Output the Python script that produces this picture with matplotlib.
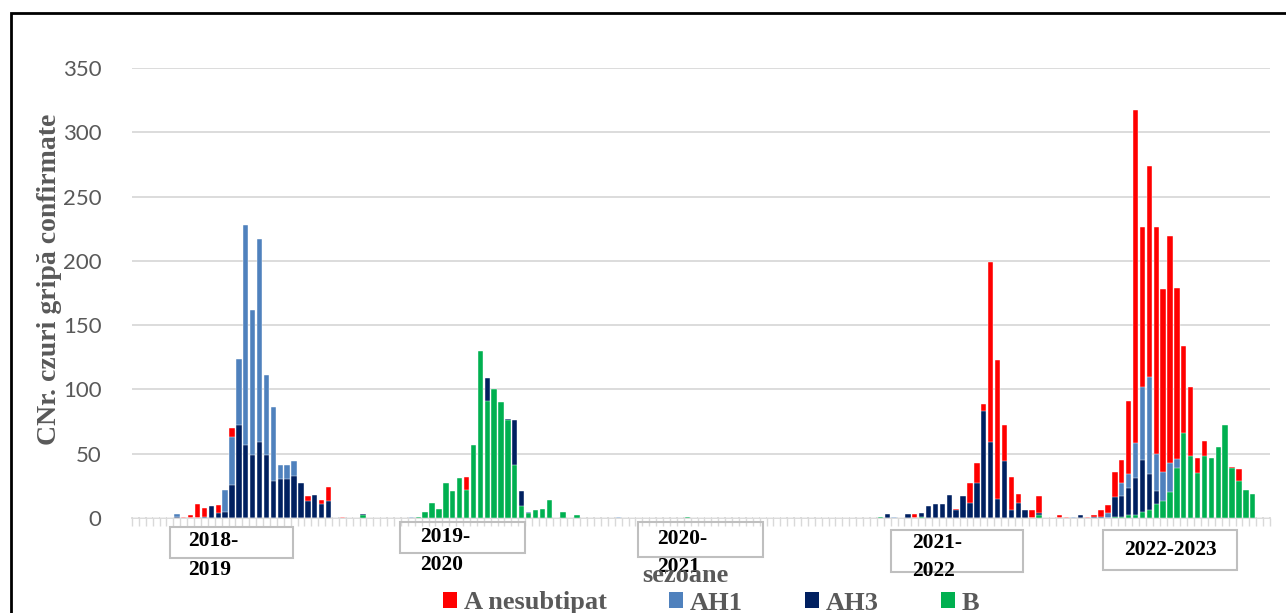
import numpy as np
import matplotlib
matplotlib.use('Agg')
import matplotlib.pyplot as plt
from matplotlib.patches import Rectangle, Patch

# weekly confirmed influenza cases, 5 seasons x 33 weeks (week 40 -> week 20)
seasons = ['2018-\n2019', '2019-\n2020', '2020-\n2021', '2021-\n2022', '2022-2023']

a_nesubtipat = (
    [0, 0, 0, 0, 0, 0, 0, 1, 2, 11, 8, 0, 10, 8, 70, 49, 76, 130, 28, 14, 21, 10, 6, 8, 14, 17, 5, 14, 24, 0, 1, 0, 0]
    + [0, 0, 0, 0, 0, 0, 0, 0, 0, 0, 0, 2, 4, 0, 0, 32, 12, 15, 15, 48, 63, 28, 12, 0, 0, 0, 0, 0, 0, 0, 0, 0, 0]
    + [0] * 33
    + [0, 0, 0, 0, 0, 0, 0, 0, 0, 0, 0, 0, 0, 0, 3, 0, 0, 0, 0, 0, 7, 4, 27, 43, 89, 199, 123, 72, 32, 19, 6, 6, 17]
    + [0, 0, 2, 1, 0, 0, 1, 2, 6, 10, 36, 45, 91, 317, 226, 274, 226, 178, 219, 179, 134, 102, 47, 60, 41, 27, 42, 40, 38, 0, 0, 0, 0]
)
ah1 = (
    [0, 0, 0, 0, 0, 0, 3, 0, 0, 0, 0, 0, 0, 22, 63, 124, 228, 162, 217, 111, 86, 41, 41, 44, 27, 0, 0, 0, 0, 0, 0, 0, 0]
    + [0, 0, 0, 0, 0, 0, 0, 1, 0, 0, 0, 0, 0, 0, 0, 0, 0, 0, 0, 0, 0, 0, 0, 0, 5, 0, 0, 0, 0, 0, 0, 0, 0]
    + [0, 0, 0, 0, 1, 0, 0, 0, 0, 0, 0, 0, 0, 0, 0, 0, 0, 0, 0, 0, 0, 0, 0, 0, 0, 0, 0, 0, 0, 0, 0, 0, 0]
    + [0, 0, 0, 0, 0, 0, 0, 0, 0, 0, 0, 1, 0, 0, 0, 0, 0, 0, 0, 0, 0, 0, 0, 0, 0, 0, 0, 0, 0, 0, 0, 0, 0]
    + [0, 0, 0, 0, 1, 0, 0, 0, 0, 4, 0, 27, 34, 58, 102, 110, 50, 36, 43, 46, 30, 0, 0, 0, 0, 0, 0, 0, 0, 0, 0, 0, 0]
)
ah3 = (
    [0, 0, 0, 0, 0, 0, 1, 0, 0, 0, 1, 9, 4, 5, 26, 72, 57, 49, 59, 49, 29, 30, 30, 33, 27, 13, 18, 11, 13, 0, 0, 0, 0]
    + [3, 0, 0, 0, 0, 0, 0, 0, 0, 0, 0, 0, 0, 0, 0, 0, 33, 77, 109, 58, 48, 77, 76, 21, 0, 0, 0, 0, 0, 0, 0, 0, 0]
    + [0] * 33
    + [0, 0, 0, 0, 0, 0, 0, 0, 0, 0, 3, 0, 0, 3, 0, 4, 9, 11, 11, 18, 6, 17, 12, 27, 83, 59, 15, 44, 6, 12, 6, 0, 4]
    + [0, 0, 0, 0, 0, 2, 0, 1, 1, 0, 16, 17, 23, 31, 45, 34, 21, 8, 0, 0, 0, 0, 0, 0, 0, 0, 0, 0, 0, 0, 0, 0, 0]
)
b = (
    [0] * 33
    + [2, 0, 0, 0, 0, 0, 0, 0, 1, 5, 12, 7, 27, 21, 31, 22, 57, 130, 91, 100, 90, 76, 41, 9, 4, 6, 7, 14, 0, 5, 0, 2, 0]
    + [0, 0, 0, 0, 0, 0, 0, 0, 0, 0, 0, 0, 0, 0, 1, 0, 0, 0, 0, 0, 0, 0, 0, 0, 0, 0, 0, 0, 0, 0, 0, 0, 0]
    + [0, 0, 0, 0, 0, 0, 0, 0, 0, 1, 0, 0, 0, 0, 0, 1, 0, 0, 0, 0, 0, 0, 0, 0, 0, 0, 0, 0, 0, 0, 0, 0, 2]
    + [0, 0, 0, 0, 0, 0, 0, 0, 0, 0, 1, 1, 2, 2, 5, 6, 11, 13, 20, 39, 66, 48, 35, 48, 47, 55, 72, 39, 29, 22, 19, 0, 0]
)

series = [('A nesubtipat', a_nesubtipat, '#FF0000'),
          ('AH1', ah1, '#4F81BD'),
          ('AH3', ah3, '#002060'),
          ('B', b, '#00B050')]

W, H = 1286, 613
fig = plt.figure(figsize=(W / 100, H / 100), dpi=100)
fig.patch.set_facecolor('white')
ax = fig.add_axes([132 / W, 95 / H, 1138 / W, 450 / H])

x = np.arange(len(a_nesubtipat))
for name, vals, col in series:
    ax.bar(x, vals, width=0.78, color=col, edgecolor='white', linewidth=0.3, zorder=3)

ax.set_xlim(-0.5, len(x) - 0.5)
ax.set_ylim(0, 350)
ax.set_yticks(np.arange(0, 351, 50))
ax.grid(axis='y', color='#D9D9D9', linewidth=1.3, zorder=0)
ax.set_xticks(np.arange(-0.5, len(x), 1))
ax.set_xticklabels([])
ax.tick_params(axis='x', direction='out', length=6, width=1, color='#D9D9D9')
ax.tick_params(axis='y', length=0, pad=22, labelsize=16, labelcolor='#595959')
for lab in ax.get_yticklabels():
    lab.set_family('Lato')
for s in ['top', 'right', 'left']:
    ax.spines[s].set_visible(False)
ax.spines['bottom'].set_color('#D9D9D9')
ax.spines['bottom'].set_linewidth(1.3)


def px(xp, yp):
    return xp / W, 1 - yp / H


serif = 'Liberation Serif'

# y axis title
fig.text(*px(50, 279), 'CNr. czuri gripă confirmate', rotation=90, ha='center', va='center',
         family=serif, weight='bold', size=20, color='#595959')

# season label boxes (text boxes placed by hand in the original)
boxes = [(170, 527, 123, 31), (400, 522, 125, 31), (638, 522, 125, 35), (891, 530, 132, 42), (1103, 530, 134, 40)]
text_pos = [(188, 549), (420, 544), (657, 546), (912, 550), (1170, 550)]
for (bx, by, bw, bh), (tx, ty), lab in zip(boxes, text_pos, seasons):
    fig.add_artist(Rectangle(px(bx, by + bh), bw / W, bh / H, transform=fig.transFigure,
                             fill=False, edgecolor='#BFBFBF', linewidth=1.5))
    if '\n' in lab:
        fig.text(*px(tx, ty), lab, ha='left', va='center_baseline', family=serif, weight='bold',
                 size=15.5, color='black', linespacing=1.55)
    else:
        fig.text(*px(tx, ty), lab, ha='center', va='center', family=serif, weight='bold',
                 size=15.5, color='black')

fig.text(*px(685, 575), 'sezoane', ha='center', va='center', family=serif, weight='bold',
         size=19, color='#595959')

handles = [Patch(facecolor=col, edgecolor='none', label=name) for name, vals, col in series]
leg = fig.legend(handles=handles, loc='center', bbox_to_anchor=px(711, 603), ncol=4, frameon=False,
                 handlelength=0.55, handleheight=0.55, handletextpad=0.25, columnspacing=2.35,
                 prop={'family': serif, 'weight': 'bold', 'size': 19})
for t in leg.get_texts():
    t.set_color('#595959')

# chart border
fig.add_artist(Rectangle(px(10.5, 640), 1.2, (640 - 12.5) / H, transform=fig.transFigure,
                         fill=False, edgecolor='black', linewidth=2))

plt.savefig('out.png', dpi=100)
